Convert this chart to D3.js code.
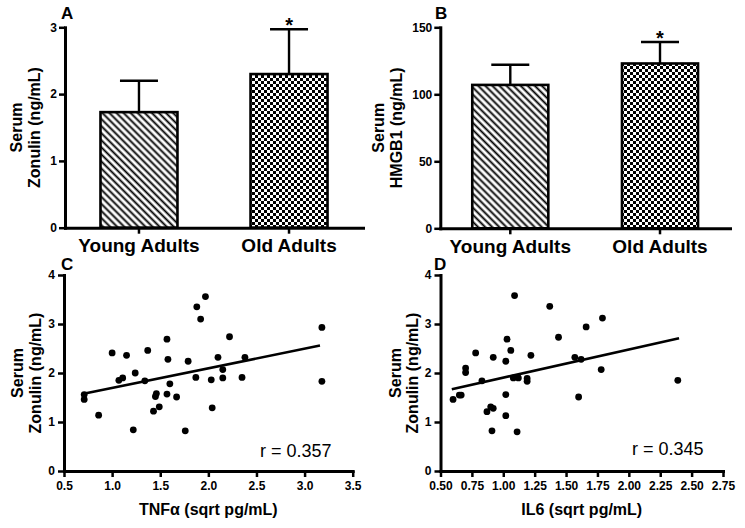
<!DOCTYPE html>
<html><head><meta charset="utf-8">
<script src="https://cdn.jsdelivr.net/npm/d3@7"></script>
<style>
body{margin:0;background:#fff}
svg{display:block}
text{font-family:"Liberation Sans",Arial,Helvetica,sans-serif}
</style>
</head><body>
<svg id="chart" width="745" height="528"></svg>
<script>
// ---------- data ----------
const barCategories = ["Young Adults", "Old Adults"];
const zonulinMean = [1.73, 2.30];
const zonulinSEM  = [0.47, 0.67];
const zonulinTicks = [0, 1, 2, 3];
const hmgb1Mean = [107, 123];
const hmgb1SEM  = [15, 16];
const hmgb1Ticks = [0, 50, 100, 150];
const significant = [false, true];

const tnfX = [0.71,0.71,0.86,1.00,1.07,1.11,1.15,1.24,1.22,1.37,1.34,1.43,1.45,1.46,1.49,1.57,1.58,1.57,1.60,1.67,1.76,1.79,1.88,1.87,1.92,1.97,2.03,2.04,2.10,2.15,2.15,2.22,2.35,2.38,3.18,3.18];
const tnfZonulin = [1.56,1.46,1.14,2.41,1.85,1.90,2.36,2.00,0.84,2.46,1.84,1.22,1.52,1.58,1.31,2.69,2.28,1.57,1.78,1.51,0.82,2.24,3.35,1.91,3.10,3.56,1.86,1.29,2.32,2.07,1.90,2.74,1.91,2.32,2.93,1.83];
const tnfFitX = [0.69, 3.16];
const tnfFitY = [1.57, 2.56];
const tnfTicks = [0.5, 1.0, 1.5, 2.0, 2.5, 3.0, 3.5];

const il6X = [0.60,0.65,0.665,0.70,0.70,0.78,0.83,0.87,0.90,0.92,0.91,0.92,1.02,1.03,1.02,1.02,1.06,1.09,1.08,1.12,1.11,1.19,1.19,1.22,1.37,1.44,1.57,1.62,1.60,1.66,1.78,1.79,2.39];
const il6Zonulin = [1.46,1.55,1.55,2.10,2.01,2.41,1.84,1.21,1.31,1.28,0.82,2.32,2.24,2.69,1.56,1.13,2.46,3.58,1.90,1.90,0.80,1.89,1.83,2.36,3.36,2.73,2.32,2.28,1.51,2.94,2.07,3.12,1.85];
const il6FitX = [0.59, 2.40];
const il6FitY = [1.67, 2.71];
const il6Ticks = [0.50, 0.75, 1.00, 1.25, 1.50, 1.75, 2.00, 2.25, 2.50, 2.75];

const scatterYTicks = [0, 1, 2, 3, 4];
const rTNF = "r = 0.357";
const rIL6 = "r = 0.345";

// ---------- drawing ----------
const svg = d3.select("#chart");
svg.append("rect").attr("width", 745).attr("height", 528).attr("fill", "#fff");

const defs = svg.append("defs");
const hatch = defs.append("pattern").attr("id", "hatch")
  .attr("patternUnits", "userSpaceOnUse").attr("width", 5).attr("height", 5)
  .attr("patternTransform", "rotate(-45)");
hatch.append("rect").attr("width", 5).attr("height", 5).attr("fill", "#fff");
hatch.append("line").attr("x1", 2.5).attr("x2", 2.5).attr("y1", 0).attr("y2", 5)
  .attr("stroke", "#000").attr("stroke-width", 1.9);

const checker = defs.append("pattern").attr("id", "checker")
  .attr("patternUnits", "userSpaceOnUse").attr("width", 6).attr("height", 6);
checker.append("rect").attr("width", 6).attr("height", 6).attr("fill", "#fff");
checker.append("rect").attr("width", 3).attr("height", 3).attr("fill", "#000");
checker.append("rect").attr("x", 3).attr("y", 3).attr("width", 3).attr("height", 3).attr("fill", "#000");

const FONT = '"Liberation Sans",Arial,Helvetica,sans-serif';

function styleAxis(g, fontSize) {
  g.select(".domain").attr("stroke", "#000").attr("stroke-width", 3).attr("stroke-linecap", "square");
  g.selectAll(".tick line").attr("stroke", "#000").attr("stroke-width", 2.5);
  g.selectAll(".tick text").attr("fill", "#000").attr("font-size", fontSize)
    .attr("font-weight", "bold").attr("font-family", FONT);
}

function yTitle(cy, lines, xs) {
  lines.forEach((t, i) => {
    svg.append("text")
      .attr("transform", `translate(${xs[i]},${cy}) rotate(-90)`)
      .attr("text-anchor", "middle").attr("font-size", 16).attr("font-weight", "bold")
      .text(t);
  });
}

function panelLetter(x, y, t) {
  svg.append("text").attr("x", x).attr("y", y).attr("font-size", 17)
    .attr("font-weight", "bold").text(t);
}

function barPanel(o) {
  const x = d3.scaleBand().domain(barCategories).range(o.xr)
    .paddingInner(o.pi).paddingOuter(o.po);
  const y = d3.scaleLinear().domain([0, o.ticks[o.ticks.length - 1]]).range(o.yr);
  const g = svg.append("g");
  g.selectAll("rect.bar").data(barCategories).join("rect")
    .attr("x", d => x(d)).attr("width", x.bandwidth())
    .attr("y", (d, i) => y(o.means[i]))
    .attr("height", (d, i) => y(0) - y(o.means[i]))
    .attr("fill", (d, i) => i === 0 ? "url(#hatch)" : "url(#checker)")
    .attr("stroke", "#000").attr("stroke-width", 2.6);
  barCategories.forEach((c, i) => {
    const cx = x(c) + x.bandwidth() / 2;
    const top = y(o.means[i] + o.errs[i]);
    g.append("line").attr("x1", cx).attr("x2", cx)
      .attr("y1", y(o.means[i])).attr("y2", top)
      .attr("stroke", "#000").attr("stroke-width", 2.4);
    g.append("line").attr("x1", cx - 19).attr("x2", cx + 19)
      .attr("y1", top).attr("y2", top)
      .attr("stroke", "#000").attr("stroke-width", 2.4);
    if (significant[i]) {
      g.append("text").attr("x", cx).attr("y", top + 3)
        .attr("text-anchor", "middle").attr("font-size", 20).attr("font-weight", "bold")
        .text("*");
    }
  });
  const ya = g.append("g").attr("transform", `translate(${o.xr[0]},0)`)
    .call(d3.axisLeft(y).tickValues(o.ticks).tickSize(6).tickSizeOuter(0).tickPadding(2)
      .tickFormat(d3.format("d")));
  styleAxis(ya, 12);
  const xa = g.append("g").attr("transform", `translate(0,${o.yr[0]})`)
    .call(d3.axisBottom(x).tickSize(6).tickSizeOuter(0).tickPadding(5));
  styleAxis(xa, 19);
  yTitle((o.yr[0] + o.yr[1]) / 2, o.title, o.titleX);
  panelLetter(o.letter[1], o.letter[2], o.letter[0]);
}

function scatterPanel(o) {
  const x = d3.scaleLinear().domain([o.ticks[0], o.ticks[o.ticks.length - 1]]).range(o.xr);
  const y = d3.scaleLinear().domain([0, 4]).range(o.yr);
  const g = svg.append("g");
  const ya = g.append("g").attr("transform", `translate(${o.xr[0]},0)`)
    .call(d3.axisLeft(y).tickValues(scatterYTicks).tickSize(6).tickSizeOuter(0).tickPadding(3)
      .tickFormat(d3.format("d")));
  styleAxis(ya, 12);
  const xa = g.append("g").attr("transform", `translate(0,${o.yr[0]})`)
    .call(d3.axisBottom(x).tickValues(o.ticks).tickSize(6).tickSizeOuter(0).tickPadding(4)
      .tickFormat(d3.format(o.fmt)));
  styleAxis(xa, 12);
  g.selectAll("circle").data(o.xs).join("circle")
    .attr("cx", d => x(d)).attr("cy", (d, i) => y(o.ys[i])).attr("r", 3.4).attr("fill", "#000");
  g.append("line").attr("x1", x(o.fitX[0])).attr("y1", y(o.fitY[0]))
    .attr("x2", x(o.fitX[1])).attr("y2", y(o.fitY[1]))
    .attr("stroke", "#000").attr("stroke-width", 2.6);
  g.append("text").attr("x", o.rPos[0]).attr("y", o.rPos[1]).attr("font-size", 18)
    .text(o.r);
  g.append("text").attr("x", (o.xr[0] + o.xr[1]) / 2).attr("y", 515)
    .attr("text-anchor", "middle").attr("font-size", 16).attr("font-weight", "bold")
    .text(o.xTitle);
  yTitle((o.yr[0] + o.yr[1]) / 2, ["Serum", "Zonulin (ng/mL)"], o.titleX);
  panelLetter(o.letter[1], o.letter[2], o.letter[0]);
}

barPanel({ xr: [65, 363], yr: [227.7, 27.3], pi: 0.487, po: 0.2365,
  means: zonulinMean, errs: zonulinSEM, ticks: zonulinTicks,
  title: ["Serum", "Zonulin (ng/mL)"], titleX: [22, 40], letter: ["A", 61, 19] });
barPanel({ xr: [440.3, 730], yr: [228.3, 27.3], pi: 0.492, po: 0.2135,
  means: hmgb1Mean, errs: hmgb1SEM, ticks: hmgb1Ticks,
  title: ["Serum", "HMGB1 (ng/mL)"], titleX: [384, 402], letter: ["B", 435, 19] });
scatterPanel({ xr: [64, 352.7], yr: [471, 275], ticks: tnfTicks, fmt: ".1f",
  xs: tnfX, ys: tnfZonulin, fitX: tnfFitX, fitY: tnfFitY, r: rTNF, rPos: [260, 457],
  xTitle: "TNFα (sqrt pg/mL)", titleX: [23, 41], letter: ["C", 61, 270] });
scatterPanel({ xr: [440.5, 723], yr: [471, 275], ticks: il6Ticks, fmt: ".2f",
  xs: il6X, ys: il6Zonulin, fitX: il6FitX, fitY: il6FitY, r: rIL6, rPos: [632, 455],
  xTitle: "IL6 (sqrt pg/mL)", titleX: [401, 418], letter: ["D", 434, 270] });
</script>
</body></html>
